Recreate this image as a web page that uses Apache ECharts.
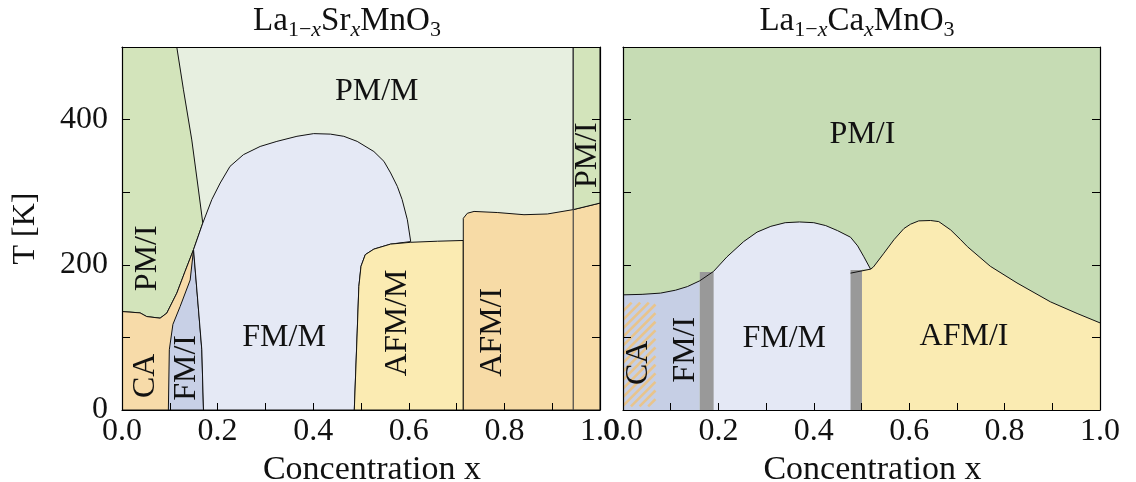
<!DOCTYPE html>
<html><head><meta charset="utf-8">
<script src="https://cdn.jsdelivr.net/npm/echarts@6/dist/echarts.min.js"></script>
<style>html,body{margin:0;padding:0;background:#fff}#c{width:1136px;height:482px}</style>
</head><body><div id="c"></div>
<script>
// ---------------- DATA (x = concentration, T = temperature in K) ----------------
const X_TICKS = [0, 0.2, 0.4, 0.6, 0.8, 1.0];
const T_TICKS = [0, 200, 400];

// La1-xSrxMnO3 (left panel) region outlines
const L_PMM  = [[0,0],[1,0],[1,500],[0,500]];
const L_PMI_A = [[0,500],[0.1146,500],[0.1286,441],[0.146,372],[0.160,303],[0.169,257.5],[0.1497,221],[0.132,191],[0.1147,161],[0.0937,133.4],[0.0797,126.5],[0.0518,128.7],[0.0377,133.8],[0,135.6]];
const L_CA   = [[0,0],[0,135.6],[0.0377,133.8],[0.0518,128.7],[0.0797,126.5],[0.0937,133.4],[0.1147,161],[0.132,191],[0.1497,221],[0.167,83],[0.1705,0]];
const L_FMI  = [[0.097,0],[0.099,83],[0.1065,118],[0.1216,142.5],[0.1426,179],[0.1497,221],[0.167,83],[0.1705,0]];
const L_FMM  = [[0.1705,0],[0.167,83],[0.1497,221],[0.169,257.5],[0.188,290],[0.2055,312.7],[0.226,335.6],[0.254,351.7],[0.289,363],[0.324,370],[0.366,377],[0.401,380.7],[0.436,380],[0.464,377],[0.492,370],[0.527,356],[0.548,342.5],[0.562,326.5],[0.576,308],[0.586,290],[0.597,262],[0.604,232],[0.562,228.5],[0.527,221.6],[0.509,214],[0.500,198],[0.4955,170],[0.492,106],[0.486,0]];
const L_AFMM = [[0.486,0],[0.492,106],[0.4955,170],[0.500,198],[0.509,214],[0.527,221.6],[0.562,228.5],[0.604,231],[0.66,232.5],[0.714,233.5],[0.714,0]];
const L_AFMI = [[0.714,0],[0.714,264],[0.7225,271],[0.7365,273.5],[0.785,272],[0.841,269],[0.890,270],[0.944,276],[1,285],[1,0]];
const L_PMI_B = [[0.944,500],[1,500],[1,285],[0.944,276]];
const L_DIVIDER = [[0.944,0],[0.944,500]];
const L_TEXT = [
  ['PM/M', 0.533, 439, 0], ['PM/I', 0.054, 209, 90], ['CA', 0.050, 47, 90], ['FM/I', 0.135, 58, 90],
  ['FM/M', 0.339, 100, 0], ['AFM/M', 0.576, 120, 90], ['AFM/I', 0.775, 107, 90], ['PM/I', 0.975, 351, 90]
];

// La1-xCaxMnO3 (right panel)
const R_PMI = [[0,0],[1,0],[1,500],[0,500]];
const R_FMI_TOP = [[0,158.6],[0.04,159.3],[0.0786,161],[0.11,165],[0.135,170],[0.161,178]];
const R_FMM_TOP = [[0.161,178],[0.19,191],[0.218,211],[0.253,232],[0.281,245],[0.31,253],[0.34,258],[0.37,259],[0.40,258],[0.425,254],[0.45,247],[0.477,238],[0.492,226],[0.505,211],[0.519,194]];
const R_AFM_TOP = [[0.519,194],[0.525,197],[0.547,216],[0.568,234.5],[0.589,250],[0.603,256],[0.62,260.5],[0.645,261],[0.662,259.5],[0.687,248],[0.708,234.5],[0.722,225],[0.770,198],[0.826,175],[0.896,149],[0.952,133],[1,120]];
const R_GRAY1 = [[0.161,0],[0.161,190],[0.19,190],[0.19,0]];
const R_GRAY2 = [[0.477,0],[0.477,193],[0.501,193],[0.501,0]];
const R_LINK = [[0.477,188.5],[0.519,194]];
const R_CA_HATCH = [[0,5],[0.068,148]];
const R_TEXT = [
  ['PM/I', 0.502, 379, 0], ['CA', 0.0335, 65, 90], ['FM/I', 0.131, 83, 90],
  ['FM/M', 0.338, 99, 0], ['AFM/I', 0.715, 100.5, 0]
];

// ---------------- STYLE ----------------
const FONT = '"Liberation Serif", "Times New Roman", serif';
const C = {
  pmmL:'#e7efe0', pmiL:'#d3e4bb', caL:'#f7dba9', fmiL:'#c8d0e6', fmmL:'#e5e9f5', afmmL:'#fbebb2', afmiL:'#f7dba6',
  pmiR:'#c6dcb4', fmiR:'#c6cfe5', fmmR:'#e4e8f5', afmR:'#faebb2', gray:'#999999', hatch:'#e8c48c'
};

function poly(pts, fill, ai, stroke) {
  return { type:'custom', xAxisIndex:ai, yAxisIndex:ai, clip:true, silent:true, z:2,
    data:[pts[0]],
    renderItem:(p, api) => ({ type:'polygon', shape:{ points: pts.map(q => api.coord(q)) },
      style:{ fill: fill, stroke: stroke ? '#111' : null, lineWidth: stroke ? 1 : 0 } }) };
}
function line(pts, ai, color, w) {
  return { type:'custom', xAxisIndex:ai, yAxisIndex:ai, clip:true, silent:true, z:3,
    data:[pts[0]],
    renderItem:(p, api) => ({ type:'polyline', shape:{ points: pts.map(q => api.coord(q)) },
      style:{ fill:null, stroke: color, lineWidth: w } }) };
}
function texts(arr, ai) {
  return { type:'custom', xAxisIndex:ai, yAxisIndex:ai, clip:false, silent:true, z:6,
    data: arr.map(d => [d[1], d[2]]),
    renderItem:(p, api) => {
      const d = arr[p.dataIndex];
      const c = api.coord([d[1], d[2]]);
      return { type:'text', x:c[0], y:c[1], rotation: d[3] * Math.PI / 180,
        style:{ text:d[0], fill:'#111', font:'32px ' + FONT, align:'center', verticalAlign:'middle' } };
    } };
}
function hatch(rect, ai) {
  return { type:'custom', xAxisIndex:ai, yAxisIndex:ai, clip:true, silent:true, z:3,
    data:[rect[0]],
    renderItem:(p, api) => {
      const a = api.coord(rect[0]), b = api.coord(rect[1]);
      const xL = Math.min(a[0], b[0]), xR = Math.max(a[0], b[0]);
      const yT = Math.min(a[1], b[1]), yB = Math.max(a[1], b[1]);
      const ch = [];
      for (let c = xL + yT; c <= xR + yB; c += 8.6) {
        const x1 = Math.max(xL, c - yB), x2 = Math.min(xR, c - yT);
        if (x2 > x1) ch.push({ type:'line', shape:{ x1:x1, y1:c - x1, x2:x2, y2:c - x2 },
          style:{ stroke:C.hatch, lineWidth:2.6 } });
      }
      return { type:'group', children: ch };
    } };
}

const tickLabelStyle = { color:'#111', fontFamily:FONT, fontSize:32 };
function xBottom(gi) {
  return { gridIndex:gi, type:'value', min:0, max:1, interval:0.1, position:'bottom', z:10,
    axisLine:{ show:true, onZero:false, lineStyle:{ color:'#000', width:1.2 } },
    axisTick:{ show:true, inside:true, length:7, lineStyle:{ color:'#000', width:1 } },
    axisLabel:Object.assign({ show:true, margin:6, showMinLabel:true, showMaxLabel:true,
      formatter: v => { const hit = X_TICKS.find(t => Math.abs(t - v) < 1e-6); return hit === undefined ? '' : hit.toFixed(1); } }, tickLabelStyle),
    splitLine:{ show:false },
    name:'Concentration x', nameLocation:'middle', nameGap:33,
    nameTextStyle:{ color:'#111', fontFamily:FONT, fontSize:34, padding:[0,0,0,22] } };
}
function xTop(gi) {
  return { gridIndex:gi, type:'value', min:0, max:1, position:'top', z:10,
    axisLine:{ show:true, onZero:false, lineStyle:{ color:'#000', width:1.2 } },
    axisTick:{ show:false }, axisLabel:{ show:false }, splitLine:{ show:false } };
}
function yAx(gi, pos, labels) {
  const o = { gridIndex:gi, type:'value', min:0, max:500, interval:100, position:pos, z:10,
    axisLine:{ show:true, onZero:false, lineStyle:{ color:'#000', width:1.2 } },
    axisTick:{ show:true, inside:true, length:8, lineStyle:{ color:'#000', width:1 } },
    axisLabel:Object.assign({ show:labels, margin:14,
      formatter: v => (T_TICKS.indexOf(v) >= 0 ? String(v) : '') }, tickLabelStyle),
    splitLine:{ show:false } };
  if (labels) {
    o.name = 'T [K]'; o.nameLocation = 'middle'; o.nameRotate = 90; o.nameGap = 80;
    o.nameTextStyle = { color:'#111', fontFamily:FONT, fontSize:32 };
  }
  return o;
}

const richTitle = {
  s:{ fontFamily:FONT, fontSize:22, lineHeight:22, padding:[18,0,0,0], color:'#111' },
  si:{ fontFamily:FONT, fontSize:22, lineHeight:22, padding:[18,0,0,0], fontStyle:'italic', color:'#111' }
};
function ttl(text, cx) {
  return { text:text, left:cx, top:1, padding:0, textAlign:'center',
    textStyle:{ fontFamily:FONT, fontSize:33, fontWeight:'normal', color:'#111', lineHeight:40, rich:richTitle } };
}

const option = {
  animation:false,
  backgroundColor:'#fff',
  title:[ ttl('La{s|1−}{si|x}Sr{si|x}MnO{s|3}', 347), ttl('La{s|1−}{si|x}Ca{si|x}MnO{s|3}', 857) ],
  grid:[ { left:122, top:47, width:478, height:363, containLabel:false, outerBoundsMode:'none' },
         { left:623, top:47, width:477, height:363, containLabel:false, outerBoundsMode:'none' } ],
  xAxis:[ xBottom(0), xTop(0), xBottom(1), xTop(1) ],
  yAxis:[ yAx(0,'left',true), yAx(0,'right',false), yAx(1,'left',false), yAx(1,'right',false) ],
  series:[
    poly(L_PMM, C.pmmL, 0, false),
    poly(L_PMI_A, C.pmiL, 0, true),
    poly(L_CA, C.caL, 0, true),
    poly(L_FMI, C.fmiL, 0, true),
    poly(L_FMM, C.fmmL, 0, true),
    poly(L_AFMM, C.afmmL, 0, true),
    poly(L_AFMI, C.afmiL, 0, true),
    poly(L_PMI_B, C.pmiL, 0, true),
    line(L_DIVIDER, 0, '#444', 1.2),
    texts(L_TEXT, 0),

    poly(R_PMI, C.pmiR, 2, false),
    poly([[0,0]].concat(R_FMI_TOP, [[0.161,0]]), C.fmiR, 2, false),
    poly(R_FMM_TOP.concat([[0.501,194],[0.501,0],[0.161,0]]), C.fmmR, 2, false),
    poly([[0.501,0],[0.501,192]].concat(R_AFM_TOP, [[1,0]]), C.afmR, 2, false),
    hatch(R_CA_HATCH, 2),
    line(R_FMI_TOP.concat(R_FMM_TOP, R_AFM_TOP), 2, '#111', 1),
    poly(R_GRAY1, C.gray, 2, false),
    poly(R_GRAY2, C.gray, 2, false),
    line(R_LINK, 2, '#111', 1),
    texts(R_TEXT, 2)
  ]
};
const chart = echarts.init(document.getElementById('c'));
chart.setOption(option);
</script></body></html>
